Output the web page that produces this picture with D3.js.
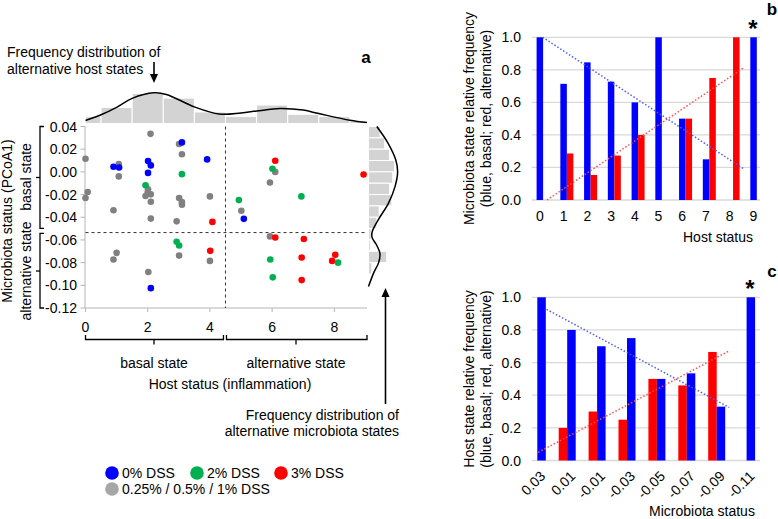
<!DOCTYPE html>
<html><head><meta charset="utf-8">
<script src="https://cdn.jsdelivr.net/npm/d3@7"></script>
<style>body{margin:0;background:#fff}svg{display:block}text{font-family:"Liberation Sans",Arial,sans-serif}</style>
</head><body><svg width="778" height="519"></svg>
<script>
// ---------- Panel a data ----------
const pointHost = [2.09,3.10,3.01,0.00,3.10,3.91,0.90,1.07,1.08,2.01,2.10,2.01,3.10,1.07,1.93,2.01,0.07,0.00,1.93,2.10,2.10,3.01,3.10,3.10,4.00,0.90,2.10,2.93,4.08,4.93,5.01,5.09,6.10,6.01,6.10,5.93,2.93,3.01,4.01,1.00,0.90,3.01,4.00,5.94,5.93,6.10,2.02,2.10,6.02,6.95,6.95,8.03,7.93,8.12,8.94,6.94,7.02,2.00];
const pointMicrobiota = [0.0335,0.026,0.0246,0.0116,0.0155,0.011,0.0045,0.0068,0.0039,0.0095,0.0057,-0.0009,-0.002,-0.004,-0.0118,-0.0154,-0.0178,-0.023,-0.0213,-0.0198,-0.0263,-0.023,-0.0267,-0.029,-0.0216,-0.0338,-0.0412,-0.0436,-0.0441,-0.0249,-0.0343,-0.0414,0.0098,0.0027,0.0,-0.0094,-0.0616,-0.0649,-0.0696,-0.0714,-0.0773,-0.0738,-0.0785,-0.0773,-0.0569,-0.0578,-0.0883,-0.1025,-0.093,-0.0954,-0.0755,-0.0731,-0.0785,-0.080,-0.0023,-0.0216,-0.0592,-0.018];
const pointGroup = ["Y","B","Y","Y","Y","B","B","Y","B","B","B","B","G","Y","G","Y","Y","Y","Y","Y","Y","Y","Y","Y","Y","Y","Y","Y","R","G","Y","B","R","G","Y","Y","G","G","R","Y","Y","Y","Y","G","Y","R","Y","B","G","R","R","R","R","G","R","G","R","Y"];
const groupColors = {B:"#0000ff",G:"#00b050",R:"#ff0000",Y:"#808080"};
const legendLabels = ["0% DSS","2% DSS","3% DSS","0.25% / 0.5% / 1% DSS"];
const legendColors = ["#0000ff","#00b050","#ff0000","#a6a6a6"];
const yTicksA = [0.04,0.02,0.00,-0.02,-0.04,-0.06,-0.08,-0.10,-0.12];
const yTickLabelsA = ["0.04","0.02","0.00","-0.02","-0.04","-0.06","-0.08","-0.10","-0.12"];
const xTicksA = [0,2,4,6,8];
const hostThreshold = 4.5, microThreshold = -0.0535;
// marginal histograms
const topHistCounts = [3,7,13,11,5,3,8,4,3,1];
const topCurve = [[0,1.3],[0.5,3.8],[1.0,7.0],[1.5,10.9],[2.2,13.3],[2.6,12.6],[3.5,7.2],[4.3,4.1],[5.0,4.6],[5.5,5.4],[6.25,6.5],[7.0,5.8],[7.5,4.3],[8.5,1.4],[9.05,0.4]];
const rightHist = [4.5,6.2,8.1,10,9.3,8.1,9,4.1,3.2,1,0.7,7,1.3];
const rightCurve = [[3.2,0.040],[7.6,0.025],[10.5,0.0105],[11.2,0.0],[10.2,-0.013],[7.6,-0.028],[3.8,-0.042],[1.4,-0.053],[1.4,-0.058],[3.0,-0.064],[4.4,-0.072],[3.9,-0.080],[2.0,-0.089],[0,-0.101]];

// ---------- Panel b data ----------
const hostCats = ["0","1","2","3","4","5","6","7","8","9"];
const bBasal = [1.0,0.714,0.846,0.727,0.6,1.0,0.5,0.25,0,1.0];
const bAlt = [0,0.286,0.154,0.273,0.4,0,0.5,0.75,1.0,0];
const bBasalTrend = [[0.12,1.0],[8.6,0.19]];
const bAltTrend = [[0.3,0.0],[8.56,0.81]];
// ---------- Panel c data ----------
const microCats = ["0.03","0.01","-0.01","-0.03","-0.05","-0.07","-0.09","-0.11"];
const cBasal = [1.0,0.8,0.7,0.75,0.5,0.534,0.33,1.0];
const cAlt = [0,0.2,0.3,0.25,0.5,0.46,0.665,0];
const cBasalTrend = [[0.31,0.926],[6.42,0.325]];
const cAltTrend = [[0.03,0.05],[6.42,0.672]];
const freqTicks = [0,0.2,0.4,0.6,0.8,1.0];
const freqTickLabels = ["0.0","0.2","0.4","0.6","0.8","1.0"];

const svg = d3.select("svg");
const txt = (x,y,s,opts={})=>{
  const t = svg.append("text").attr("x",x).attr("y",y).text(s)
    .attr("font-size",opts.size||14).attr("fill","#000");
  if(opts.anchor) t.attr("text-anchor",opts.anchor);
  if(opts.weight) t.attr("font-weight",opts.weight);
  if(opts.rotate!==undefined) t.attr("transform",`rotate(${opts.rotate},${x},${y})`);
  return t;
};
const line = (pts,stroke="#000",w=1.2,dash=null)=>{
  const p = svg.append("path").attr("d",d3.line()(pts)).attr("fill","none").attr("stroke",stroke).attr("stroke-width",w);
  if(dash) p.attr("stroke-dasharray",dash);
  return p;
};
const arrowHead = (x,y,dir)=>{ // dir 1 = pointing down, -1 = up
  svg.append("path").attr("d",`M${x},${y} L${x-4},${y-9*dir} L${x+4},${y-9*dir} Z`).attr("fill","#000");
};

// ---------- Panel a ----------
const xA = d3.scaleLinear().domain([0,9.05]).range([85.5,367]);
const yA = d3.scaleLinear().domain([-0.12,0.04]).range([308,126.5]);
const yTop = d3.scaleLinear().domain([0,13]).range([123.5,93.5]);
const xRight = d3.scaleLinear().domain([0,10]).range([368.5,394.5]);

// top histogram
svg.append("g").selectAll("rect").data(topHistCounts).join("rect")
  .attr("x",(d,i)=>xA(Math.max(0,i-0.5)))
  .attr("width",(d,i)=>xA(Math.min(9.05,i+0.5))-xA(Math.max(0,i-0.5)))
  .attr("y",d=>yTop(d)).attr("height",d=>yTop(0)-yTop(d))
  .attr("fill","#d3d3d3").attr("stroke","#fff").attr("stroke-width",1);
svg.append("path").datum(topCurve)
  .attr("d",d3.line().x(d=>xA(d[0])).y(d=>yTop(d[1])).curve(d3.curveCatmullRom))
  .attr("fill","none").attr("stroke","#000").attr("stroke-width",1.5);

// right histogram
svg.append("g").selectAll("rect").data(rightHist).join("rect")
  .attr("x",xRight(0))
  .attr("y",(d,i)=>yA(0.04-0.01*i))
  .attr("height",(d,i)=>yA(0.04-0.01*(i+1))-yA(0.04-0.01*i))
  .attr("width",d=>xRight(d)-xRight(0))
  .attr("fill","#d3d3d3").attr("stroke","#fff").attr("stroke-width",1);
svg.append("path").datum(rightCurve)
  .attr("d",d3.line().x(d=>xRight(d[0])).y(d=>yA(d[1])).curve(d3.curveCatmullRom))
  .attr("fill","none").attr("stroke","#000").attr("stroke-width",1.5);

// axes
const axCol="#b5b5b5";
line([[xA(0)-0.5,yA(0.04)],[xA(0)-0.5,yA(-0.12)]],axCol,1);
line([[xA(0)-0.5,yA(-0.12)],[xA(9.05),yA(-0.12)]],axCol,1);
yTicksA.forEach((v,i)=>{
  line([[xA(0)-5,yA(v)],[xA(0)-0.5,yA(v)]],axCol,1);
  txt(77,yA(v)+5,yTickLabelsA[i],{anchor:"end"});
});
xTicksA.forEach(v=>{
  line([[xA(v),yA(-0.12)],[xA(v),yA(-0.12)+4]],axCol,1);
  txt(xA(v),yA(-0.12)+24,String(v),{anchor:"middle"});
});
// threshold dashed lines
line([[xA(hostThreshold),yA(0.04)],[xA(hostThreshold),yA(-0.12)]],"#333",1,"3,3");
line([[xA(0),yA(microThreshold)],[xA(9.05),yA(microThreshold)]],"#333",1,"3,3");

// points
const order = d3.range(pointHost.length).sort((a,b)=>(pointGroup[a]==="Y"?0:1)-(pointGroup[b]==="Y"?0:1));
svg.append("g").selectAll("circle").data(order).join("circle")
  .attr("cx",i=>xA(pointHost[i])).attr("cy",i=>yA(pointMicrobiota[i]))
  .attr("r",3.3).attr("fill",i=>groupColors[pointGroup[i]]);

// left brackets
line([[44,yA(0.04)],[40,yA(0.04)],[40,228.3],[44,228.3]],"#000",1.3);
line([[40,177.5],[36,177.5]],"#000",1.3);
line([[44,233.3],[40,233.3],[40,yA(-0.12)],[44,yA(-0.12)]],"#000",1.3);
line([[40,271],[36,271]],"#000",1.3);
txt(12,221,"Microbiota status (PCoA1)",{anchor:"middle",rotate:-90});
txt(31,177,"basal state",{anchor:"middle",rotate:-90});
txt(31,271,"alternative state",{anchor:"middle",rotate:-90});

// bottom brackets
line([[xA(0),335],[xA(0),339.5],[xA(hostThreshold)-2,339.5],[xA(hostThreshold)-2,335]],"#000",1.3);
line([[154,339.5],[154,344.5]],"#000",1.3);
line([[xA(hostThreshold)+1,335],[xA(hostThreshold)+1,339.5],[xA(9.05),339.5],[xA(9.05),335]],"#000",1.3);
line([[296,339.5],[296,344.5]],"#000",1.3);
txt(154,368,"basal state",{anchor:"middle"});
txt(296,368,"alternative state",{anchor:"middle"});
txt(230,389,"Host status (inflammation)",{anchor:"middle"});

// annotations
txt(7,57,"Frequency distribution of");
txt(7,73.5,"alternative host states");
line([[154,62],[154,75]],"#000",1.6);
arrowHead(154,83,1);
txt(399,420,"Frequency distribution of",{anchor:"end"});
txt(399,436,"alternative microbiota states",{anchor:"end"});
line([[385.5,404],[385.5,296]],"#000",1.6);
arrowHead(385.5,288,-1);
txt(366,63,"a",{weight:"bold",size:17,anchor:"middle"});

// legend
[[112,473],[197,473],[281,473],[112,489]].forEach((p,i)=>{
  svg.append("circle").attr("cx",p[0]).attr("cy",p[1]).attr("r",6.8).attr("fill",legendColors[i]);
  txt(p[0]+10,p[1]+5,legendLabels[i],{size:14});
});

// ---------- Panel b ----------
const gridCol="#d9d9d9";
const yB = d3.scaleLinear().domain([0,1]).range([200,37.3]);
const pB = d3.scalePoint().domain(hostCats).range([539.8,753.5]);
const tB = d3.scaleLinear().domain([0,hostCats.length-1]).range([539.8,753.5]);
freqTicks.forEach((v,i)=>{
  line([[531.7,yB(v)],[760,yB(v)]],gridCol,1.3);
  txt(521,yB(v)+5,freqTickLabels[i],{anchor:"end"});
});
svg.append("g").selectAll("rect").data(hostCats).join("rect")
  .attr("x",d=>pB(d)-3.2).attr("width",6.5)
  .attr("y",(d,i)=>yB(bBasal[i])).attr("height",(d,i)=>yB(0)-yB(bBasal[i]))
  .attr("fill","#0000ff");
svg.append("g").selectAll("rect").data(hostCats).join("rect")
  .attr("x",d=>pB(d)+3.3).attr("width",6.5)
  .attr("y",(d,i)=>yB(bAlt[i])).attr("height",(d,i)=>yB(0)-yB(bAlt[i]))
  .attr("fill","#ff0000");
hostCats.forEach(c=>txt(pB(c),221,c,{anchor:"middle"}));
line(bBasalTrend.map(d=>[tB(d[0]),yB(d[1])]),"#4f5cff",1.5,"1.5,2");
line(bAltTrend.map(d=>[tB(d[0]),yB(d[1])]),"#ff5050",1.5,"1.5,2");
txt(718,242,"Host status",{anchor:"middle"});
txt(474,118.5,"Microbiota state relative frequency",{anchor:"middle",rotate:-90});
txt(491,118.5,"(blue, basal; red, alternative)",{anchor:"middle",rotate:-90});
txt(753,37,"*",{anchor:"middle",weight:"bold",size:24});
txt(772,15,"b",{anchor:"middle",weight:"bold",size:17});

// ---------- Panel c ----------
const yC = d3.scaleLinear().domain([0,1]).range([460.5,297.3]);
const pC = d3.scalePoint().domain(microCats).range([537.3,746.6]);
const tC = d3.scaleLinear().domain([0,microCats.length-1]).range([537.3,746.6]);
freqTicks.forEach((v,i)=>{
  line([[531.7,yC(v)],[760,yC(v)]],gridCol,1.3);
  txt(521,yC(v)+5,freqTickLabels[i],{anchor:"end"});
});
svg.append("g").selectAll("rect").data(microCats).join("rect")
  .attr("x",d=>pC(d)-8.5).attr("width",8.5)
  .attr("y",(d,i)=>yC(cAlt[i])).attr("height",(d,i)=>yC(0)-yC(cAlt[i]))
  .attr("fill","#ff0000");
svg.append("g").selectAll("rect").data(microCats).join("rect")
  .attr("x",d=>pC(d)).attr("width",8.5)
  .attr("y",(d,i)=>yC(cBasal[i])).attr("height",(d,i)=>yC(0)-yC(cBasal[i]))
  .attr("fill","#0000ff");
microCats.forEach(c=>txt(pC(c)+9,477,c,{anchor:"end",rotate:-45}));
line(cBasalTrend.map(d=>[tC(d[0]),yC(d[1])]),"#4f5cff",1.5,"1.5,2");
line(cAltTrend.map(d=>[tC(d[0]),yC(d[1])]),"#ff5050",1.5,"1.5,2");
txt(702,516,"Microbiota status",{anchor:"middle"});
txt(474,379,"Host state relative frequency",{anchor:"middle",rotate:-90});
txt(491,379,"(blue, basal; red, alternative)",{anchor:"middle",rotate:-90});
txt(750,297,"*",{anchor:"middle",weight:"bold",size:24});
txt(772,277,"c",{anchor:"middle",weight:"bold",size:17});
</script></body></html>
